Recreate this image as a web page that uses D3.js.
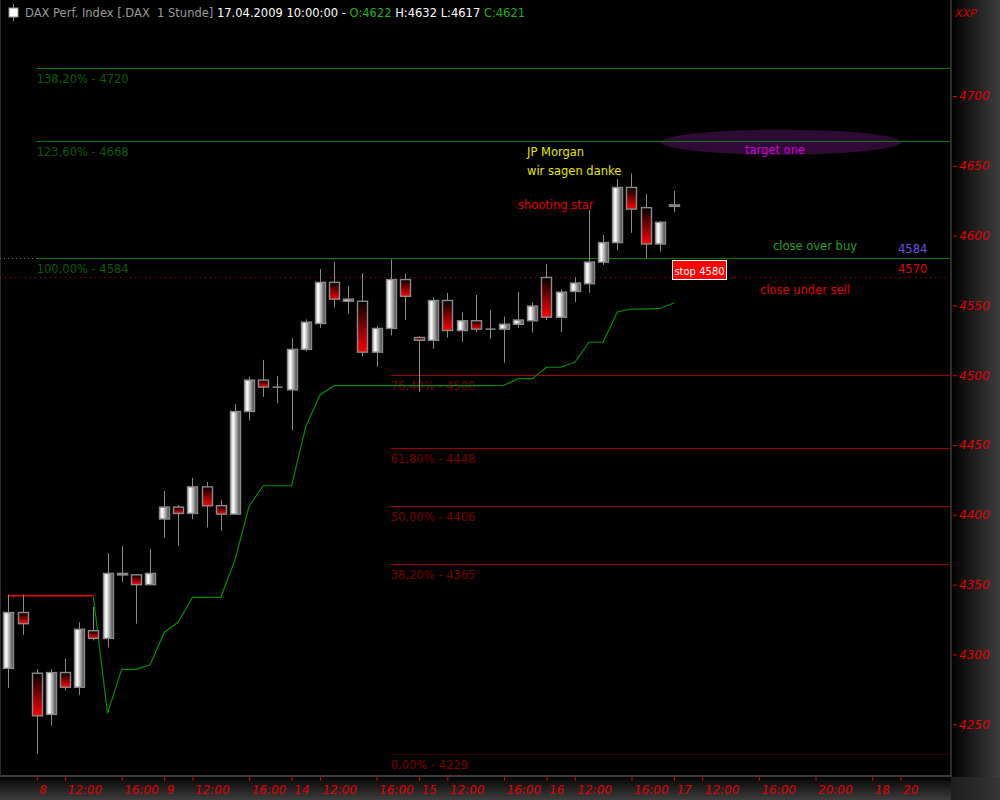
<!DOCTYPE html>
<html>
<head>
<meta charset="utf-8">
<script src="https://cdn.jsdelivr.net/npm/d3@7"></script>
<style>
  html, body { margin: 0; padding: 0; background: #000; }
  svg { display: block; }
</style>
</head>
<body>
<svg id="chart" width="1000" height="800"></svg>
<script>
// ---------------- DATA ----------------
// hourly candles, index 0 = first bar (day 7), 9 bars per day
const opens  = [4290,4330,4286.5,4257,4287,4276.5,4317,4311.5,4357,4357,4350,4397,4405.5,4401,4420,4406.5,4400.5,4474,4496.5,4491.5,4489.5,4518.5,4537,4566.5,4553,4553,4516.5,4533.5,4568.5,4527,4525,4553.5,4532,4539,4533,4533,4536.5,4539,4570,4541.5,4560,4565.5,4581,4595,4634.5,4620,4594,4622];
const highs  = [4343,4343,4289.5,4289.5,4297,4323,4334,4372.5,4377.5,4357.6,4375.5,4417,4407,4426.5,4423.5,4410.5,4479.5,4499,4511,4499.5,4526.5,4540,4576,4581,4564,4573,4535.5,4583,4572.5,4528,4556,4559,4545,4557.5,4546.5,4542,4559.5,4552,4579.5,4561.5,4570,4618.5,4600.5,4640.5,4644.5,4630,4610.5,4632];
const lows   = [4276,4314,4229,4249,4274,4271,4310,4305,4352,4322,4350,4383.5,4378,4397,4391,4388.5,4400.5,4467.5,4484.5,4480,4460.5,4517,4534,4548.5,4544,4513.5,4506,4528.5,4539.5,4488,4519,4527,4524,4531,4526,4509,4534,4530.5,4539.5,4531,4552.5,4559,4579,4589.5,4602,4583.5,4588.5,4617];
const closes = [4330,4322,4256,4287,4276.5,4318,4311.5,4358,4358,4350,4358,4405.5,4401,4420,4406.5,4400.5,4474,4496.5,4491.5,4491.5,4518.5,4538,4566.5,4554.5,4554.5,4516.5,4533.5,4568.5,4556.5,4525,4553.5,4532,4539,4533,4533,4536.5,4539.5,4549.5,4541.5,4559.5,4566,4581,4595,4634.5,4619,4594,4609.5,4621];

// trailing stop indicator: red (sell) phase from bar 0, green (buy) phase from bar 6
const trailRedStart = 0;
const trailRed   = [4342,4342,4342,4342,4342,4342,4342];
const trailGreenStart = 6;
const trailGreen = [4341.3,4257.8,4289.3,4289.3,4292.4,4315.7,4323.2,4340.9,4340.9,4340.9,4367.6,4406.3,4420.8,4420.8,4420.8,4463.1,4485.8,4492.5,4492.6,4492.6,4492.6,4492.6,4492.6,4492.6,4492.6,4492.6,4492.6,4492.6,4492.6,4492.8,4497.5,4497.5,4505.7,4505.7,4509.2,4523.6,4523.6,4545.3,4547.4,4547.4,4547.8,4551.7];

// fibonacci levels
const fibGreenLevels = [4720, 4668, 4584];
const fibGreenLabels = ["138,20% - 4720", "123,60% - 4668", "100,00% - 4584"];
const fibRedLevels   = [4500, 4448, 4406, 4365, 4229];
const fibRedLabels   = ["76,40% - 4500", "61,80% - 4448", "50,00% - 4406", "38,20% - 4365", "0,00% - 4229"];
const sellLevel = 4570;

// axes
const yTicks = [4250,4300,4350,4400,4450,4500,4550,4600,4650,4700];
const xTickIdx    = [2,4,8,11,13,17,20,22,26,29,31,35,38,40,44,47,49,53,57,61,63];
const xTickLabels = ["8","12:00","16:00","9","12:00","16:00","14","12:00","16:00","15","12:00","16:00","16","12:00","16:00","17","12:00","16:00","20:00","18","20"];

// ---------------- CHART ----------------
const svg = d3.select("#chart");
const W = 1000, H = 800, plotR = 951, plotB = 776;
const FONT = "'DejaVu Sans', Verdana, sans-serif";

const x = d3.scaleLinear().domain([0, 63]).range([8.4, 900.5]);
const y = d3.scaleLinear().domain([4200, 4750]).range([794, 26.2]);

const defs = svg.append("defs");
const gW = defs.append("linearGradient").attr("id","gWhite").attr("x1","0").attr("x2","1").attr("y1","0").attr("y2","0");
gW.append("stop").attr("offset","0%").attr("stop-color","#bdbdbd");
gW.append("stop").attr("offset","28%").attr("stop-color","#ffffff");
gW.append("stop").attr("offset","100%").attr("stop-color","#3a3a3a");
const gR = defs.append("linearGradient").attr("id","gRed").attr("x1","0").attr("x2","0").attr("y1","0").attr("y2","1");
gR.append("stop").attr("offset","0%").attr("stop-color","#000000");
gR.append("stop").attr("offset","100%").attr("stop-color","#ff0000");
const gRight = defs.append("linearGradient").attr("id","gRight").attr("x1","0").attr("x2","1").attr("y1","0").attr("y2","0");
gRight.append("stop").attr("offset","0%").attr("stop-color","#000000");
gRight.append("stop").attr("offset","100%").attr("stop-color","#3e3e3e");
const gBot = defs.append("linearGradient").attr("id","gBot").attr("x1","0").attr("x2","0").attr("y1","0").attr("y2","1");
gBot.append("stop").attr("offset","0%").attr("stop-color","#050505");
gBot.append("stop").attr("offset","100%").attr("stop-color","#3c3c3c");

// background panels
svg.append("rect").attr("x",0).attr("y",0).attr("width",W).attr("height",H).attr("fill","#000");
svg.append("rect").attr("x",plotR).attr("y",0).attr("width",W-plotR).attr("height",H).attr("fill","url(#gRight)");
svg.append("rect").attr("x",0).attr("y",plotB+1).attr("width",plotR).attr("height",H-plotB-1).attr("fill","url(#gBot)");
svg.append("rect").attr("x",plotR).attr("y",plotB+1).attr("width",W-plotR).attr("height",H-plotB-1).attr("fill","#303030").attr("opacity",0.6);
// frame
svg.append("line").attr("x1",plotR).attr("x2",plotR).attr("y1",0).attr("y2",plotB+1).attr("stroke","#3c3c3c").attr("stroke-width",1.5);
svg.append("line").attr("x1",0).attr("x2",plotR).attr("y1",plotB).attr("y2",plotB).attr("stroke","#3c3c3c").attr("stroke-width",2);
svg.append("line").attr("x1",0.5).attr("x2",0.5).attr("y1",0).attr("y2",plotB).attr("stroke","#2a2a2a");

// target ellipse
svg.append("ellipse").attr("cx",781).attr("cy",y(4668)+1.5).attr("rx",120).attr("ry",12.5).attr("fill","#2e0a34");

// fibonacci lines
const fib = svg.append("g");
fibGreenLevels.forEach((lv,i)=>{
  fib.append("line").attr("x1",x(2)).attr("x2",plotR-1).attr("y1",Math.round(y(lv))+0.5).attr("y2",Math.round(y(lv))+0.5)
     .attr("stroke","#0a7a0a").attr("stroke-width",1);
  fib.append("text").attr("x",x(2)).attr("y",y(lv)+15).text(fibGreenLabels[i])
     .attr("fill","#0c5a0c").attr("font-size",11.5).attr("font-family",FONT);
});
fibRedLevels.forEach((lv,i)=>{
  const last = i === fibRedLevels.length-1;
  fib.append("line").attr("x1",x(27)).attr("x2",plotR-1).attr("y1",Math.round(y(lv))+0.5).attr("y2",Math.round(y(lv))+0.5)
     .attr("stroke", last ? "#3a0000" : "#a00000").attr("stroke-width",1);
  fib.append("text").attr("x",x(27)).attr("y",y(lv)+15).text(fibRedLabels[i])
     .attr("fill","#7a0000").attr("font-size",11.5).attr("font-family",FONT);
});
// dotted left extension of 100% line, sell line dotted red
fib.append("line").attr("x1",0).attr("x2",x(2)).attr("y1",Math.round(y(4584))+0.5).attr("y2",Math.round(y(4584))+0.5)
   .attr("stroke","#707070").attr("stroke-dasharray","1,3");
fib.append("line").attr("x1",0).attr("x2",plotR-1).attr("y1",Math.round(y(sellLevel))+0.5).attr("y2",Math.round(y(sellLevel))+0.5)
   .attr("stroke","#c00000").attr("stroke-dasharray","1,4");

// indicator lines
const lineGen = d3.line().x(d=>x(d.i)).y(d=>y(d.v));
svg.append("path").datum(trailRed.map((v,k)=>({i:trailRedStart+k, v})))
   .attr("d",lineGen).attr("fill","none").attr("stroke","#ff0000").attr("stroke-width",1.3);
svg.append("path").datum(trailGreen.map((v,k)=>({i:trailGreenStart+k, v})))
   .attr("d",lineGen).attr("fill","none").attr("stroke","#009000").attr("stroke-width",1.2);

// candles
const candles = opens.map((o,i)=>({i, o, h:highs[i], l:lows[i], c:closes[i]}));
const bw = 10;
const cg = svg.append("g").selectAll("g").data(candles).join("g");
cg.append("line")
  .attr("x1",d=>Math.round(x(d.i))+0.5).attr("x2",d=>Math.round(x(d.i))+0.5)
  .attr("y1",d=>y(d.h)).attr("y2",d=>y(d.l))
  .attr("stroke","#8a8a8a").attr("stroke-width",1);
cg.each(function(d){
  const g = d3.select(this);
  const top = y(Math.max(d.o,d.c)), bot = y(Math.min(d.o,d.c));
  const cx = Math.round(x(d.i))+0.5;
  if (bot - top < 1) {
    g.append("line").attr("x1",cx-bw/2).attr("x2",cx+bw/2).attr("y1",top).attr("y2",top)
     .attr("stroke","#8a8a8a").attr("stroke-width",1.5);
  } else {
    g.append("rect").attr("x",cx-bw/2).attr("y",top).attr("width",bw).attr("height",Math.max(bot-top,1.5))
     .attr("fill", d.c >= d.o ? "url(#gWhite)" : "url(#gRed)")
     .attr("stroke","#8a8a8a").attr("stroke-width",1.4);
  }
});

// right axis
const ya = svg.append("g").attr("transform",`translate(${plotR+2},0)`)
  .call(d3.axisRight(y).tickValues(yTicks).tickSize(4).tickPadding(2).tickFormat(d3.format("d")));
ya.select(".domain").remove();
ya.selectAll("line").attr("stroke","#e00000");
ya.selectAll("text").attr("fill","#e00000").attr("font-size",12).attr("font-family",FONT).attr("font-style","italic");
svg.append("text").attr("x",955).attr("y",17).text("XXP").attr("fill","#d00000")
   .attr("font-size",11).attr("font-family",FONT).attr("font-style","italic");

// bottom axis
const xa = svg.append("g").attr("transform",`translate(0,${plotB+1})`)
  .call(d3.axisBottom(x).tickValues(xTickIdx).tickSize(4).tickFormat((d,i)=>xTickLabels[i]));
xa.select(".domain").remove();
xa.selectAll("line").attr("stroke","#e00000");
xa.selectAll("text").attr("fill","#e00000").attr("font-size",12).attr("font-family",FONT).attr("font-style","italic")
  .attr("text-anchor","start").attr("x",2).attr("y",8).attr("dy","0.71em");

// header
const hdr = svg.append("g").attr("font-family",FONT).attr("font-size",11.5);
hdr.append("line").attr("x1",13.5).attr("x2",13.5).attr("y1",4).attr("y2",21).attr("stroke","#909090");
hdr.append("rect").attr("x",9).attr("y",8).attr("width",9).attr("height",9).attr("fill","#ffffff").attr("stroke","#909090");
const headerO = opens[47], headerH = highs[47], headerL = lows[47], headerC = closes[47];
const ht = hdr.append("text").attr("x",25).attr("y",17).attr("xml:space","preserve");
ht.append("tspan").attr("fill","#9a9a9a").text("DAX Perf. Index [.DAX  1 Stunde] ");
ht.append("tspan").attr("fill","#ffffff").text("17.04.2009 10:00:00 - ");
ht.append("tspan").attr("fill","#20b020").text("O:" + headerO + " ");
ht.append("tspan").attr("fill","#ffffff").text("H:" + headerH + " L:" + headerL + " ");
ht.append("tspan").attr("fill","#20b020").text("C:" + headerC);

// annotations
const ann = svg.append("g").attr("font-family",FONT).attr("font-size",11.5);
ann.append("text").attr("x",527).attr("y",156).attr("fill","#e6e600").text("JP Morgan");
ann.append("text").attr("x",527).attr("y",175).attr("fill","#e6e600").text("wir sagen danke");
ann.append("text").attr("x",518).attr("y",209).attr("fill","#e00000").text("shooting star");
ann.append("text").attr("x",745).attr("y",154).attr("fill","#d000d0").text("target one");
ann.append("text").attr("x",773).attr("y",250).attr("fill","#20a020").text("close over buy");
ann.append("text").attr("x",898).attr("y",253).attr("fill","#7050e0").text("4584");
ann.append("text").attr("x",898).attr("y",273).attr("fill","#e00000").text("4570");
ann.append("text").attr("x",760).attr("y",294).attr("fill","#e00000").text("close under sell");
ann.append("rect").attr("x",672.5).attr("y",260.5).attr("width",54).attr("height",19).attr("fill","#ff0000").attr("stroke","#ffffff").attr("stroke-width",1);
ann.append("text").attr("x",699.5).attr("y",274.5).attr("text-anchor","middle").attr("fill","#ffffff").attr("font-size",10).text("stop 4580");
</script>
</body>
</html>
